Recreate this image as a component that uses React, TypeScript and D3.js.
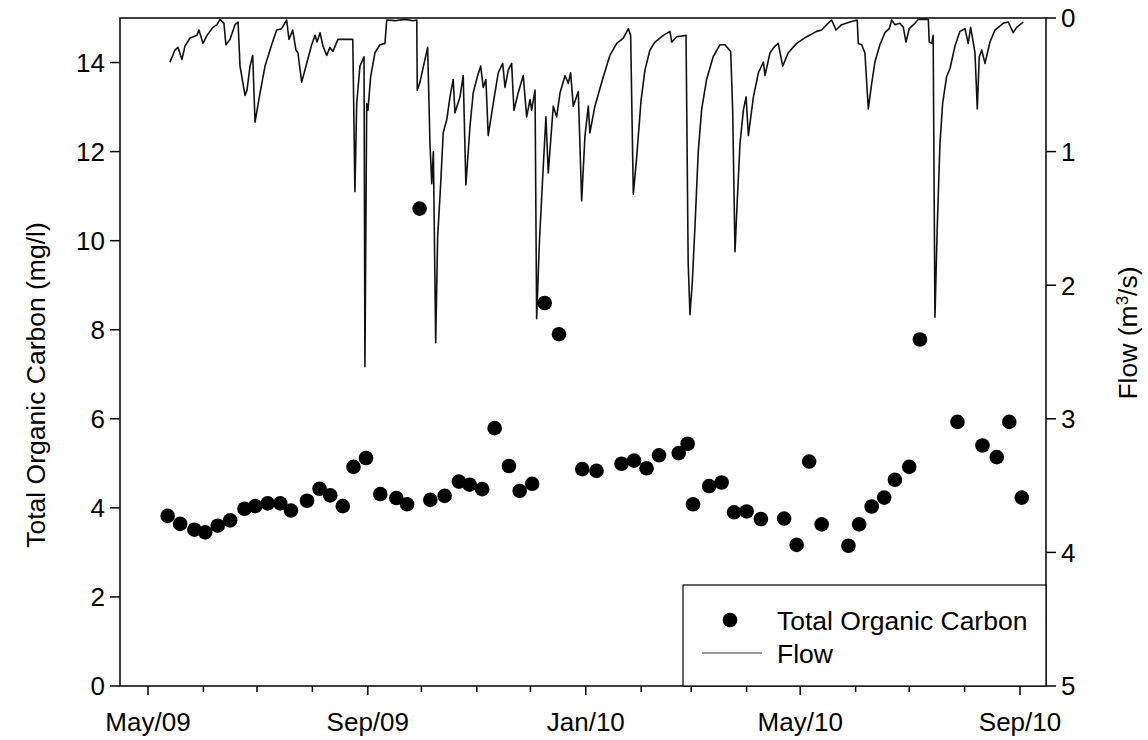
import React from "react";
import * as d3 from "d3";

// ---- data ----
// days since 2009-05-01
const flowDay = [12.3,15.1,16.8,19.0,20.7,23.5,27.4,28.5,30.8,33.0,36.4,38.6,40.3,42.5,43.6,45.9,48.7,50.4,51.5,54.3,55.4,57.1,58.6,59.9,62.7,65.5,69.2,72.0,74.8,77.6,78.9,81.0,82.8,83.9,86.0,88.8,91.6,93.5,94.6,96.3,97.9,100.0,101.8,103.5,106.3,114.6,114.9,115.8,116.8,118.6,120.9,121.4,122.4,123.1,124.6,127.0,129.8,132.6,133.6,138.2,143.8,148.3,150.4,150.7,152.2,156.5,157.8,158.8,159.7,161.0,162.1,163.8,165.2,167.2,169.0,170.8,171.8,174.6,176.4,177.9,180.2,182.0,184.3,186.2,187.6,189.1,190.4,193.2,196.0,198.5,199.8,201.6,203.5,204.8,207.2,210.0,211.9,213.8,214.7,216.6,217.5,219.0,220.9,222.7,224.0,226.8,228.7,230.6,233.4,235.2,236.5,238.0,240.8,242.7,244.5,246.4,247.3,250.1,254.8,258.5,262.3,266.0,268.8,270.1,271.6,273.5,275.9,278.1,280.9,283.7,288.4,292.1,293.1,295.9,301.1,302.3,303.3,304.6,306.1,307.9,309.8,312.6,316.3,320.1,322.9,326.1,327.2,328.5,329.8,331.3,333.2,334.7,336.0,338.8,341.6,344.4,345.3,348.1,350.9,352.7,355.2,358.3,363.0,368.6,374.2,377.0,379.8,382.6,385.0,388.2,392.8,396.9,397.5,399.4,401.2,403.1,405.0,406.8,409.6,412.4,414.8,416.2,418.0,420.8,422.7,424.2,426.0,429.2,431.1,436.7,437.2,438.6,439.4,440.4,441.7,443.2,444.7,446.9,448.8,451.6,454.4,457.2,459.0,460.4,462.8,464.1,465.2,466.6,468.4,471.2,474.0,478.6,481.4,484.2,486.1,489.8];
const flowValue = [0.33,0.24,0.22,0.31,0.21,0.15,0.13,0.09,0.19,0.13,0.07,0.05,0.01,0.04,0.20,0.16,0.05,0.03,0.36,0.58,0.54,0.36,0.28,0.78,0.56,0.36,0.20,0.09,0.08,0.015,0.16,0.09,0.24,0.26,0.48,0.34,0.20,0.13,0.18,0.11,0.21,0.28,0.22,0.25,0.16,0.16,0.44,1.30,0.64,0.36,0.29,2.61,0.64,0.69,0.44,0.26,0.20,0.19,0.015,0.02,0.01,0.02,0.015,0.54,0.48,0.22,0.94,1.24,1.00,2.43,1.64,1.24,0.86,0.76,0.59,0.46,0.71,0.59,0.43,1.25,0.81,0.56,0.44,0.36,0.52,0.46,0.88,0.64,0.41,0.34,0.52,0.39,0.34,0.69,0.56,0.43,0.74,0.61,0.69,0.54,2.25,1.69,1.19,0.74,1.16,0.66,0.74,0.56,0.43,0.49,0.41,0.66,0.55,1.37,0.89,0.66,0.86,0.66,0.44,0.28,0.19,0.15,0.08,0.13,1.32,1.04,0.62,0.39,0.24,0.18,0.13,0.10,0.18,0.14,0.13,1.83,2.22,1.98,1.56,1.01,0.69,0.46,0.29,0.20,0.20,0.25,0.69,1.75,1.36,0.94,0.69,0.59,0.88,0.59,0.41,0.33,0.43,0.26,0.21,0.19,0.36,0.26,0.19,0.14,0.10,0.09,0.05,0.015,0.09,0.05,0.03,0.015,0.19,0.20,0.26,0.68,0.49,0.33,0.20,0.11,0.08,0.015,0.05,0.04,0.07,0.18,0.08,0.04,0.01,0.01,0.18,0.19,0.13,2.24,1.56,0.94,0.64,0.44,0.38,0.21,0.10,0.08,0.19,0.07,0.26,0.68,0.29,0.24,0.34,0.18,0.09,0.04,0.03,0.11,0.07,0.03];

// days since 2009-05-01
const tocDay = [11,18,26,32,39,46,54,60,67,74,80,89,96,102,109,115,122,130,139,145,152,158,166,174,180,187,194,202,208,215,222,230,243,251,265,272,279,286,297,302,305,314,321,328,335,343,356,363,370,377,392,398,405,412,418,426,432,453,467,475,482,489];
const tocValue = [3.82,3.64,3.51,3.45,3.60,3.72,3.98,4.04,4.10,4.10,3.94,4.16,4.43,4.28,4.04,4.92,5.12,4.31,4.22,4.08,10.72,4.18,4.27,4.59,4.52,4.42,5.79,4.94,4.38,4.54,8.60,7.90,4.87,4.83,4.99,5.06,4.89,5.18,5.23,5.44,4.08,4.49,4.57,3.90,3.92,3.75,3.76,3.17,5.04,3.63,3.15,3.63,4.03,4.23,4.63,4.92,7.78,5.93,5.40,5.14,5.93,4.23];

const leftTicks = [0, 2, 4, 6, 8, 10, 12, 14];
const rightTicks = [0, 1, 2, 3, 4, 5];
const majorTickDates = ["2009-05-01", "2009-09-01", "2010-01-01", "2010-05-01", "2010-09-01"];
const majorTickLabels = ["May/09", "Sep/09", "Jan/10", "May/10", "Sep/10"];

const leftTitle = "Total Organic Carbon (mg/l)";
const legendLabels = ["Total Organic Carbon", "Flow"];

const FONT = "'Liberation Sans', Arial, Helvetica, sans-serif";

function parseDay(s: string) {
  const [y, m, d] = s.split("-").map(Number);
  return new Date(y, m - 1, d);
}
const origin = parseDay("2009-05-01");
const dayToDate = (d: number) => new Date(origin.getTime() + d * 86400000);

export default function App() {
  const W = 1148, H = 740;
  const L = 120, R = 1046, T = 18, B = 686;

  const x = d3.scaleTime()
    .domain([parseDay(majorTickDates[0]), parseDay(majorTickDates[majorTickDates.length - 1])])
    .range([148, 1020]);
  const yL = d3.scaleLinear().domain([0, 15]).range([B, T]);
  const yR = d3.scaleLinear().domain([0, 5]).range([T, B]);

  const flowPts = flowDay.map((d, i) => [dayToDate(d), flowValue[i]] as [Date, number]);
  const flowLine = d3.line<[Date, number]>()
    .x(p => x(p[0]))
    .y(p => yR(p[1]));

  const minorTicks = d3.timeMonth.range(parseDay("2009-05-01"), parseDay("2010-09-02"));
  const majorSet = new Set(majorTickDates.map(s => parseDay(s).getTime()));

  return (
    <svg width={W} height={H} style={{ position: "absolute", left: 0, top: 0, background: "#fff" }}>
      <defs>
        <clipPath id="plotclip">
          <rect x={L} y={T - 1} width={R - L} height={B - T + 1} />
        </clipPath>
      </defs>

      {/* flow line */}
      <path d={flowLine(flowPts) || ""} fill="none" stroke="#111" strokeWidth={1.6}
        strokeLinejoin="round" clipPath="url(#plotclip)" />

      {/* TOC points */}
      {tocDay.map((d, i) => (
        <circle key={i} cx={x(dayToDate(d))} cy={yL(tocValue[i])} r={7.3} fill="#000" />
      ))}

      {/* frame */}
      <rect x={L} y={T} width={R - L} height={B - T} fill="none" stroke="#000" strokeWidth={1.5} />

      {/* left axis ticks */}
      {leftTicks.map(t => (
        <g key={"l" + t}>
          <line x1={L - 10} x2={L} y1={yL(t)} y2={yL(t)} stroke="#000" strokeWidth={1.5} />
          <text x={L - 15} y={yL(t)} dy="0.36em" textAnchor="end" fontFamily={FONT} fontSize={26}>{t}</text>
        </g>
      ))}

      {/* right axis ticks */}
      {rightTicks.map(t => (
        <g key={"r" + t}>
          <line x1={R} x2={R + 10} y1={yR(t)} y2={yR(t)} stroke="#000" strokeWidth={1.5} />
          <text x={R + 15} y={yR(t)} dy="0.36em" textAnchor="start" fontFamily={FONT} fontSize={26}>{t}</text>
        </g>
      ))}

      {/* bottom axis ticks */}
      {minorTicks.map((m, i) => {
        const major = majorSet.has(m.getTime());
        return (
          <line key={"m" + i} x1={x(m)} x2={x(m)} y1={B} y2={B + (major ? 9 : 6)} stroke="#000" strokeWidth={1.5} />
        );
      })}
      {majorTickDates.map((s, i) => (
        <text key={"xl" + i} x={x(parseDay(s))} y={731} textAnchor="middle" fontFamily={FONT} fontSize={26}>
          {majorTickLabels[i]}
        </text>
      ))}

      {/* axis titles */}
      <text transform={`translate(45, 385) rotate(-90)`} textAnchor="middle"
        fontFamily={FONT} fontSize={26.5}>{leftTitle}</text>
      <text transform={`translate(1137, 333) rotate(-90)`} textAnchor="middle"
        fontFamily={FONT} fontSize={26.5}>
        Flow (m<tspan baseline-shift="super" fontSize={17}>3</tspan>/s)
      </text>

      {/* legend */}
      <rect x={683} y={585} width={R - 683} height={B - 585} fill="#fff" stroke="#000" strokeWidth={1.2} />
      <circle cx={730} cy={620} r={7.3} fill="#000" />
      <text x={777} y={620} dy="0.36em" fontFamily={FONT} fontSize={26.5}>{legendLabels[0]}</text>
      <line x1={702} x2={762} y1={653} y2={653} stroke="#777" strokeWidth={1.3} />
      <text x={777} y={653} dy="0.36em" fontFamily={FONT} fontSize={26.5}>{legendLabels[1]}</text>
    </svg>
  );
}
